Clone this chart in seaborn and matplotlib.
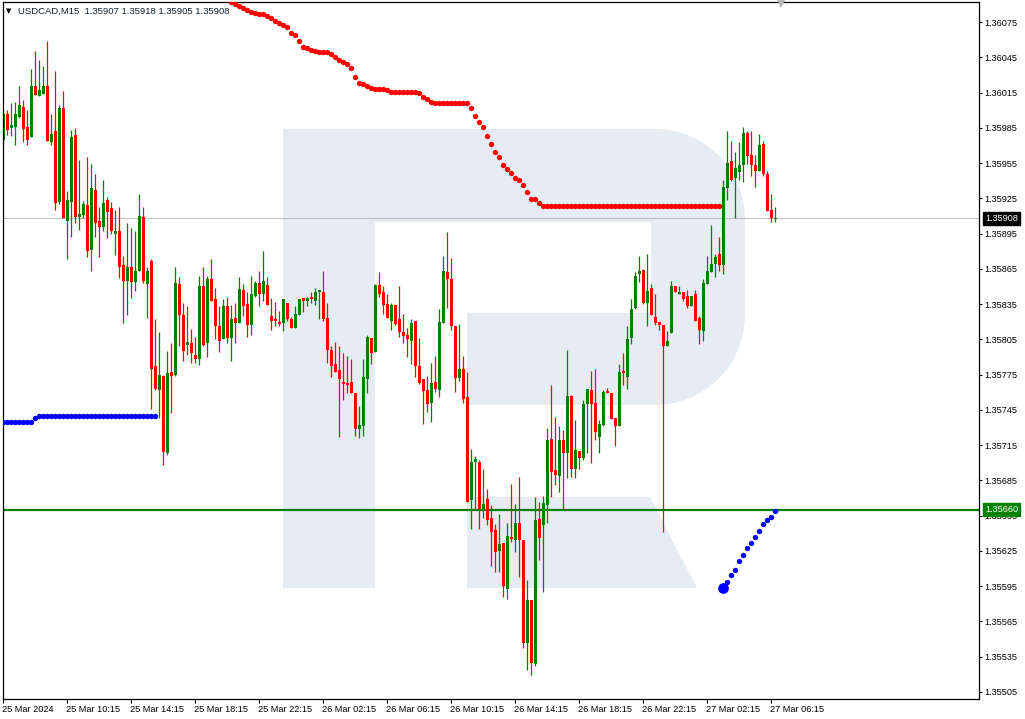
import numpy as np
import pandas as pd
import matplotlib
matplotlib.use("Agg")
import matplotlib.pyplot as plt
import matplotlib.transforms as mtransforms
from matplotlib.patches import Polygon
import seaborn as sns

sns.set_theme(style="white")
plt.rcParams['font.family'] = ['Liberation Sans', 'DejaVu Sans']

# ---------------- data ----------------
symbol = "USDCAD,M15"
header_ohlc = ["1.35907", "1.35918", "1.35905", "1.35908"]

opens = [1.35975,1.35997,1.35985,1.35986,1.35994,1.36003,1.35986,1.35977,1.36021,1.36012,
         1.36014,1.36021,1.35973,1.35982,1.35922,1.36002,1.35906,1.35922,1.35979,1.35909,
         1.35911,1.35919,1.35881,1.35932,1.35906,1.35901,1.35924,1.35917,1.35895,1.35897,
         1.35868,1.35855,1.35867,1.35854,1.35863,1.35909,1.35852,1.35872,1.35782,1.35762,
         1.35774,1.35708,1.35777,1.35775,1.35852,1.35826,1.35800,1.35802,1.35792,1.35788,
         1.35850,1.35802,1.35856,1.35839,1.35816,1.35805,1.35833,1.35806,1.35823,1.35819,
         1.35847,1.35835,1.35817,1.35842,1.35853,1.35844,1.35851,1.35825,1.35822,1.35820,
         1.35819,1.35836,1.35822,1.35815,1.35826,1.35840,1.35838,1.35841,1.35838,1.35845,
         1.35845,1.35823,1.35796,1.35784,1.35779,1.35769,1.35768,1.35769,1.35759,1.35729,
         1.35731,1.35771,1.35806,1.35794,1.35851,1.35845,1.35835,1.35821,1.35834,1.35822,
         1.35811,1.35809,1.35804,1.35821,1.35782,1.35771,1.35762,1.35751,1.35769,1.35762,
         1.35819,1.35862,1.35856,1.35816,1.35772,1.35780,1.35756,1.35668,1.35701,1.35701,
         1.35661,1.35669,1.35653,1.35643,1.35625,1.35632,1.35593,1.35637,1.35634,1.35649,
         1.35634,1.35547,1.35583,1.35529,1.35652,1.35647,1.35664,1.35720,1.35694,1.35689,
         1.35719,1.35708,1.35757,1.35695,1.35710,1.35704,1.35750,1.35762,1.35751,1.35722,
         1.35732,1.35761,1.35759,1.35738,1.35731,1.35778,1.35773,1.35806,1.35832,1.35861,
         1.35864,1.35836,1.35849,1.35824,1.35820,1.35817,1.35799,1.35810,1.35850,1.35844,
         1.35845,1.35842,1.35833,1.35844,1.35823,1.35812,1.35852,1.35862,1.35869,1.35878,
         1.35868,1.35934,1.35957,1.35942,1.35947,1.35953,1.35981,1.35962,1.35953,1.35948,
         1.35971,1.35946,1.35915,1.35907]

highs = [1.35999,1.36000,1.36006,1.36007,1.36021,1.36009,1.36000,1.36035,1.36050,1.36043,
         1.36038,1.36059,1.35997,1.36033,1.36004,1.36016,1.35931,1.35983,1.35985,1.35958,
         1.35923,1.35960,1.35954,1.35946,1.35918,1.35941,1.35926,1.35922,1.35915,1.35918,
         1.35876,1.35904,1.35900,1.35897,1.35929,1.35918,1.35867,1.35873,1.35822,1.35811,
         1.35775,1.35795,1.35802,1.35867,1.35858,1.35836,1.35833,1.35814,1.35807,1.35859,
         1.35867,1.35859,1.35873,1.35849,1.35833,1.35839,1.35841,1.35834,1.35836,1.35858,
         1.35852,1.35845,1.35859,1.35855,1.35863,1.35880,1.35858,1.35840,1.35837,1.35829,
         1.35839,1.35836,1.35824,1.35833,1.35839,1.35840,1.35841,1.35845,1.35849,1.35847,
         1.35863,1.35836,1.35799,1.35803,1.35799,1.35793,1.35791,1.35788,1.35759,1.35748,
         1.35788,1.35809,1.35806,1.35852,1.35862,1.35850,1.35844,1.35836,1.35834,1.35850,
         1.35827,1.35815,1.35822,1.35821,1.35806,1.35771,1.35774,1.35785,1.35791,1.35831,
         1.35876,1.35896,1.35874,1.35816,1.35818,1.35791,1.35777,1.35712,1.35706,1.35702,
         1.35695,1.35678,1.35664,1.35648,1.35656,1.35632,1.35649,1.35682,1.35665,1.35688,
         1.35634,1.35600,1.35583,1.35671,1.35667,1.35672,1.35730,1.35766,1.35739,1.35731,
         1.35728,1.35796,1.35758,1.35736,1.35710,1.35753,1.35763,1.35778,1.35780,1.35736,
         1.35762,1.35764,1.35759,1.35738,1.35784,1.35793,1.35816,1.35839,1.35862,1.35876,
         1.35865,1.35878,1.35852,1.35844,1.35820,1.35817,1.35812,1.35855,1.35850,1.35850,
         1.35845,1.35847,1.35842,1.35847,1.35825,1.35856,1.35876,1.35902,1.35878,1.35892,
         1.35941,1.35982,1.35974,1.35964,1.35973,1.35986,1.35982,1.35982,1.35962,1.35980,
         1.35974,1.35948,1.35929,1.35918]

lows = [1.35972,1.35979,1.35978,1.35970,1.35993,1.35973,1.35970,1.35977,1.36013,1.36012,
        1.36014,1.35974,1.35970,1.35915,1.35920,1.35908,1.35873,1.35892,1.35904,1.35898,
        1.35908,1.35875,1.35863,1.35892,1.35875,1.35897,1.35891,1.35895,1.35877,1.35857,
        1.35819,1.35826,1.35840,1.35846,1.35863,1.35853,1.35823,1.35746,1.35762,1.35738,
        1.35698,1.35707,1.35742,1.35774,1.35799,1.35787,1.35792,1.35785,1.35785,1.35783,
        1.35799,1.35790,1.35838,1.35805,1.35794,1.35805,1.35802,1.35787,1.35802,1.35819,
        1.35825,1.35807,1.35809,1.35841,1.35833,1.35838,1.35834,1.35813,1.35816,1.35816,
        1.35812,1.35821,1.35815,1.35815,1.35826,1.35828,1.35833,1.35836,1.35834,1.35822,
        1.35821,1.35785,1.35773,1.35777,1.35722,1.35753,1.35759,1.35759,1.35723,1.35721,
        1.35723,1.35759,1.35784,1.35794,1.35841,1.35827,1.35823,1.35813,1.35817,1.35807,
        1.35802,1.35790,1.35784,1.35773,1.35767,1.35733,1.35743,1.35735,1.35760,1.35756,
        1.35819,1.35832,1.35813,1.35760,1.35770,1.35751,1.35667,1.35644,1.35661,1.35644,
        1.35653,1.35647,1.35612,1.35607,1.35607,1.35586,1.35584,1.35633,1.35624,1.35603,
        1.35542,1.35524,1.35519,1.35527,1.35617,1.35590,1.35649,1.35671,1.35681,1.35675,
        1.35661,1.35687,1.35688,1.35687,1.35695,1.35702,1.35708,1.35700,1.35719,1.35708,
        1.35731,1.35759,1.35737,1.35714,1.35731,1.35766,1.35763,1.35801,1.35831,1.35854,
        1.35835,1.35816,1.35826,1.35817,1.35813,1.35641,1.35799,1.35810,1.35845,1.35844,
        1.35838,1.35832,1.35833,1.35821,1.35801,1.35804,1.35852,1.35862,1.35858,1.35863,
        1.35861,1.35924,1.35940,1.35908,1.35941,1.35939,1.35954,1.35944,1.35935,1.35948,
        1.35944,1.35914,1.35905,1.35905]

closes = [1.35997,1.35983,1.35987,1.35997,1.36004,1.35984,1.35975,1.36021,1.36013,1.36017,
          1.36021,1.35974,1.35980,1.35921,1.36002,1.35908,1.35924,1.35977,1.35909,1.35912,
          1.35920,1.35880,1.35934,1.35904,1.35901,1.35921,1.35913,1.35897,1.35897,1.35867,
          1.35855,1.35867,1.35854,1.35863,1.35910,1.35855,1.35863,1.35780,1.35763,1.35775,
          1.35709,1.35776,1.35774,1.35853,1.35826,1.35795,1.35803,1.35793,1.35788,1.35850,
          1.35800,1.35856,1.35838,1.35816,1.35804,1.35833,1.35806,1.35822,1.35819,1.35848,
          1.35833,1.35817,1.35844,1.35853,1.35844,1.35855,1.35834,1.35821,1.35821,1.35818,
          1.35839,1.35822,1.35815,1.35827,1.35839,1.35838,1.35840,1.35839,1.35845,1.35847,
          1.35822,1.35796,1.35782,1.35777,1.35771,1.35767,1.35766,1.35759,1.35729,1.35732,
          1.35773,1.35807,1.35793,1.35851,1.35844,1.35834,1.35823,1.35834,1.35818,1.35811,
          1.35808,1.35805,1.35819,1.35782,1.35768,1.35761,1.35750,1.35768,1.35763,1.35820,
          1.35863,1.35856,1.35816,1.35772,1.35780,1.35754,1.35667,1.35701,1.35703,1.35661,
          1.35665,1.35651,1.35641,1.35624,1.35631,1.35595,1.35638,1.35635,1.35649,1.35634,
          1.35547,1.35583,1.35530,1.35651,1.35636,1.35666,1.35719,1.35692,1.35690,1.35719,
          1.35708,1.35757,1.35695,1.35711,1.35704,1.35750,1.35763,1.35750,1.35726,1.35733,
          1.35760,1.35759,1.35737,1.35731,1.35777,1.35776,1.35805,1.35831,1.35859,1.35863,
          1.35836,1.35846,1.35826,1.35819,1.35817,1.35799,1.35804,1.35850,1.35845,1.35845,
          1.35839,1.35833,1.35842,1.35821,1.35813,1.35853,1.35863,1.35869,1.35875,1.35868,
          1.35935,1.35955,1.35941,1.35951,1.35953,1.35981,1.35961,1.35953,1.35948,1.35970,
          1.35946,1.35914,1.35908,1.35908]

# trailing-stop dots (Parabolic-SAR style)
sar_red_start = 57
sar_red = [1.360923,1.360903,1.360886,1.360869,1.360852,1.360835,1.360824,1.360818,1.360818,1.360801,
           1.360781,1.360761,1.360739,1.360722,1.360710,1.360659,1.360639,1.360591,1.360540,1.360526,
           1.360512,1.360503,1.360497,1.360497,1.360497,1.360478,1.360450,1.360427,1.360412,1.360393,
           1.360356,1.360280,1.360228,1.360220,1.360206,1.360189,1.360183,1.360183,1.360183,1.360171,
           1.360157,1.360157,1.360157,1.360157,1.360157,1.360157,1.360157,
           1.360143,1.360114,1.360092,1.360072,
           1.360063,1.360063,1.360063,1.360063,1.360063,1.360063,1.360063,1.360063,1.360063,
           1.360016,1.359953,1.359902,1.359859,1.359783,1.359712,1.359647,1.359604,1.359533,1.359499,
           1.359463,1.359425,1.359406,1.359363,1.359306,1.359242,1.359242,1.359213,
           1.359185,1.359185,1.359185,1.359185,1.359185,1.359185,1.359185,1.359185,1.359185,1.359185,
           1.359185,1.359185,1.359185,1.359185,1.359185,1.359185,1.359185,1.359185,1.359185,1.359185,
           1.359185,1.359185,1.359185,1.359185,1.359185,1.359185,1.359185,1.359185,1.359185,1.359185,
           1.359185,1.359185,1.359185,1.359185,1.359185,1.359185,1.359185,1.359185,1.359185,1.359185,
           1.359185,1.359185,1.359185,1.359185,1.359185]
sar_blue_left = [1.357350,1.357350,1.357350,1.357350,1.357350,1.357350,1.357350,1.357350,1.357378,
                 1.357401,1.357401,1.357401,1.357401,1.357401,1.357401,1.357401,1.357401,1.357401,1.357401,
                 1.357401,1.357401,1.357401,1.357401,1.357401,1.357401,1.357401,1.357401,1.357401,1.357401,
                 1.357401,1.357401,1.357401,1.357401,1.357401,1.357401,1.357401,1.357401,1.357401,1.357401]
sar_blue_right_start = 180
sar_blue_right = [1.355937,1.355983,1.356045,1.356088,1.356164,1.356216,1.356278,
                  1.356320,1.356371,1.356422,1.356479,1.356513,1.356541,1.356592]

support_level = 1.35660
last_price = 1.35908

y_ticks = [1.36075,1.36045,1.36015,1.35985,1.35955,1.35925,1.35895,1.35865,1.35835,1.35805,
           1.35775,1.35745,1.35715,1.35685,1.35655,1.35625,1.35595,1.35565,1.35535,1.35505]
x_tick_bars = [0,16,32,48,64,80,96,112,128,144,160,176,192]
x_tick_labels = ["25 Mar 2024","25 Mar 10:15","25 Mar 14:15","25 Mar 18:15","25 Mar 22:15",
                 "26 Mar 02:15","26 Mar 06:15","26 Mar 10:15","26 Mar 14:15","26 Mar 18:15",
                 "26 Mar 22:15","27 Mar 02:15","27 Mar 06:15"]

# ---------------- frames ----------------
df = pd.DataFrame({"open": opens, "high": highs, "low": lows, "close": closes})
df["bar"] = np.arange(len(df))
df["bull"] = df["close"] >= df["open"]
df["body_lo"] = df[["open", "close"]].min(axis=1)
df["body_h"] = (df["close"] - df["open"]).abs().clip(lower=0.0000085)

red_df = pd.DataFrame({"bar": np.arange(sar_red_start, sar_red_start + len(sar_red)), "v": sar_red})
bl_df = pd.DataFrame({"bar": np.arange(len(sar_blue_left)), "v": sar_blue_left})
br_df = pd.DataFrame({"bar": np.arange(sar_blue_right_start, sar_blue_right_start + len(sar_blue_right)),
                      "v": sar_blue_right})

# ---------------- figure ----------------
W, H = 1025, 719
fig = plt.figure(figsize=(W / 100, H / 100), dpi=100)
fig.patch.set_facecolor("white")
ax = fig.add_axes([2.7 / W, 1 - 699 / H, (979 - 2.7) / W, (699 - 2.3) / H])
ax.set_facecolor("white")

# watermark logo (figure pixel geometry)
def fp(x, y):
    return (x / W, 1 - y / H)

logo_col = "#E6ECF4"
t = np.linspace(0, np.pi / 2, 20)
pts = [(283, 129), (655, 129)]
pts += [(655 + 90 * np.sin(a), 219 - 90 * np.cos(a)) for a in t]
pts += [(745, 315)]
pts += [(655 + 90 * np.cos(a), 315 + 90 * np.sin(a)) for a in t]
pts += [(467, 405), (467, 313), (651, 313), (651, 222), (375, 222), (375, 588), (283, 588)]
ax.add_patch(Polygon([fp(*p) for p in pts], closed=True, transform=fig.transFigure,
                     facecolor=logo_col, edgecolor="none", zorder=0.2))
leg = [(467, 497), (650, 497), (697, 588), (467, 588)]
ax.add_patch(Polygon([fp(*p) for p in leg], closed=True, transform=fig.transFigure,
                     facecolor=logo_col, edgecolor="none", zorder=0.2))

# horizontal levels
ax.axhline(last_price, color="#C0C0C0", lw=0.8, zorder=1)
ax.axhline(support_level, color="#008000", lw=1.6, zorder=1.5)

# candles
colors = np.where(df["bull"], "#008000", "#FF0000")
ax.vlines(df["bar"], df["low"], df["high"], colors=colors, linewidth=0.9, zorder=2)
ax.bar(df["bar"], df["body_h"], bottom=df["body_lo"], width=0.78, color=colors,
       linewidth=0, zorder=2.1)

# SAR dots
sns.scatterplot(data=red_df, x="bar", y="v", color="#FF0000", s=15, linewidth=0,
                ax=ax, zorder=3, legend=False)
sns.scatterplot(data=bl_df, x="bar", y="v", color="#0000FF", s=15, linewidth=0,
                ax=ax, zorder=3, legend=False)
sns.scatterplot(data=br_df, x="bar", y="v", color="#0000FF", s=15, linewidth=0,
                ax=ax, zorder=3, legend=False)
sns.scatterplot(data=br_df.iloc[:1], x="bar", y="v", color="#0000FF", s=60, linewidth=0,
                ax=ax, zorder=3, legend=False)

# axes limits / ticks
ax.set_xlim(-0.15, 243.9)
ax.set_ylim(1.354990, 1.360918)
ax.set_xlabel("")
ax.set_ylabel("")
for s in ax.spines.values():
    s.set_color("black")
    s.set_linewidth(0.9)

ax.yaxis.tick_right()
ax.set_yticks(y_ticks)
ax.set_yticklabels([f"{v:.5f}" for v in y_ticks])
ax.tick_params(axis="y", direction="out", length=2.5, width=0.8, pad=1.5,
               labelsize=6.6, colors="black", right=True, left=False)
ax.set_xticks(x_tick_bars)
ax.set_xticklabels(x_tick_labels, ha="left")
ax.tick_params(axis="x", direction="out", length=3, width=0.8, pad=1.2,
               labelsize=6.6, colors="black", bottom=True)
offset = mtransforms.ScaledTranslation(-1 / 100, 0, fig.dpi_scale_trans)
for lab in ax.get_xticklabels():
    lab.set_transform(lab.get_transform() + offset)

# price boxes on the right scale
ytr = mtransforms.blended_transform_factory(ax.transAxes, ax.transData)
ax.text(1.0065, last_price, "1.35908", transform=ytr, fontsize=6.6, color="white",
        va="center", ha="left", clip_on=False, zorder=5,
        bbox=dict(boxstyle="square,pad=0.22", fc="black", ec="black"))
ax.text(1.0065, support_level, "1.35660", transform=ytr, fontsize=6.6, color="white",
        va="center", ha="left", clip_on=False, zorder=5,
        bbox=dict(boxstyle="square,pad=0.22", fc="#008000", ec="#008000"))

# header
fig.text(6 / W, 1 - 11.5 / H, "\u25BC", fontsize=5, color="black", va="center", ha="left",
         family=["DejaVu Sans"])
fig.text(18 / W, 1 - 11 / H, symbol + "  " + " ".join(header_ohlc), fontsize=6.8,
         color="#10202E", va="center", ha="left")

# chart-shift marker at top
ax.plot([781 / W], [1 - 4 / H], marker="v", markersize=6, color="#B4B4B4",
        transform=fig.transFigure, clip_on=False, zorder=6, markeredgewidth=0)

fig.savefig("out.png", dpi=100, facecolor="white")
